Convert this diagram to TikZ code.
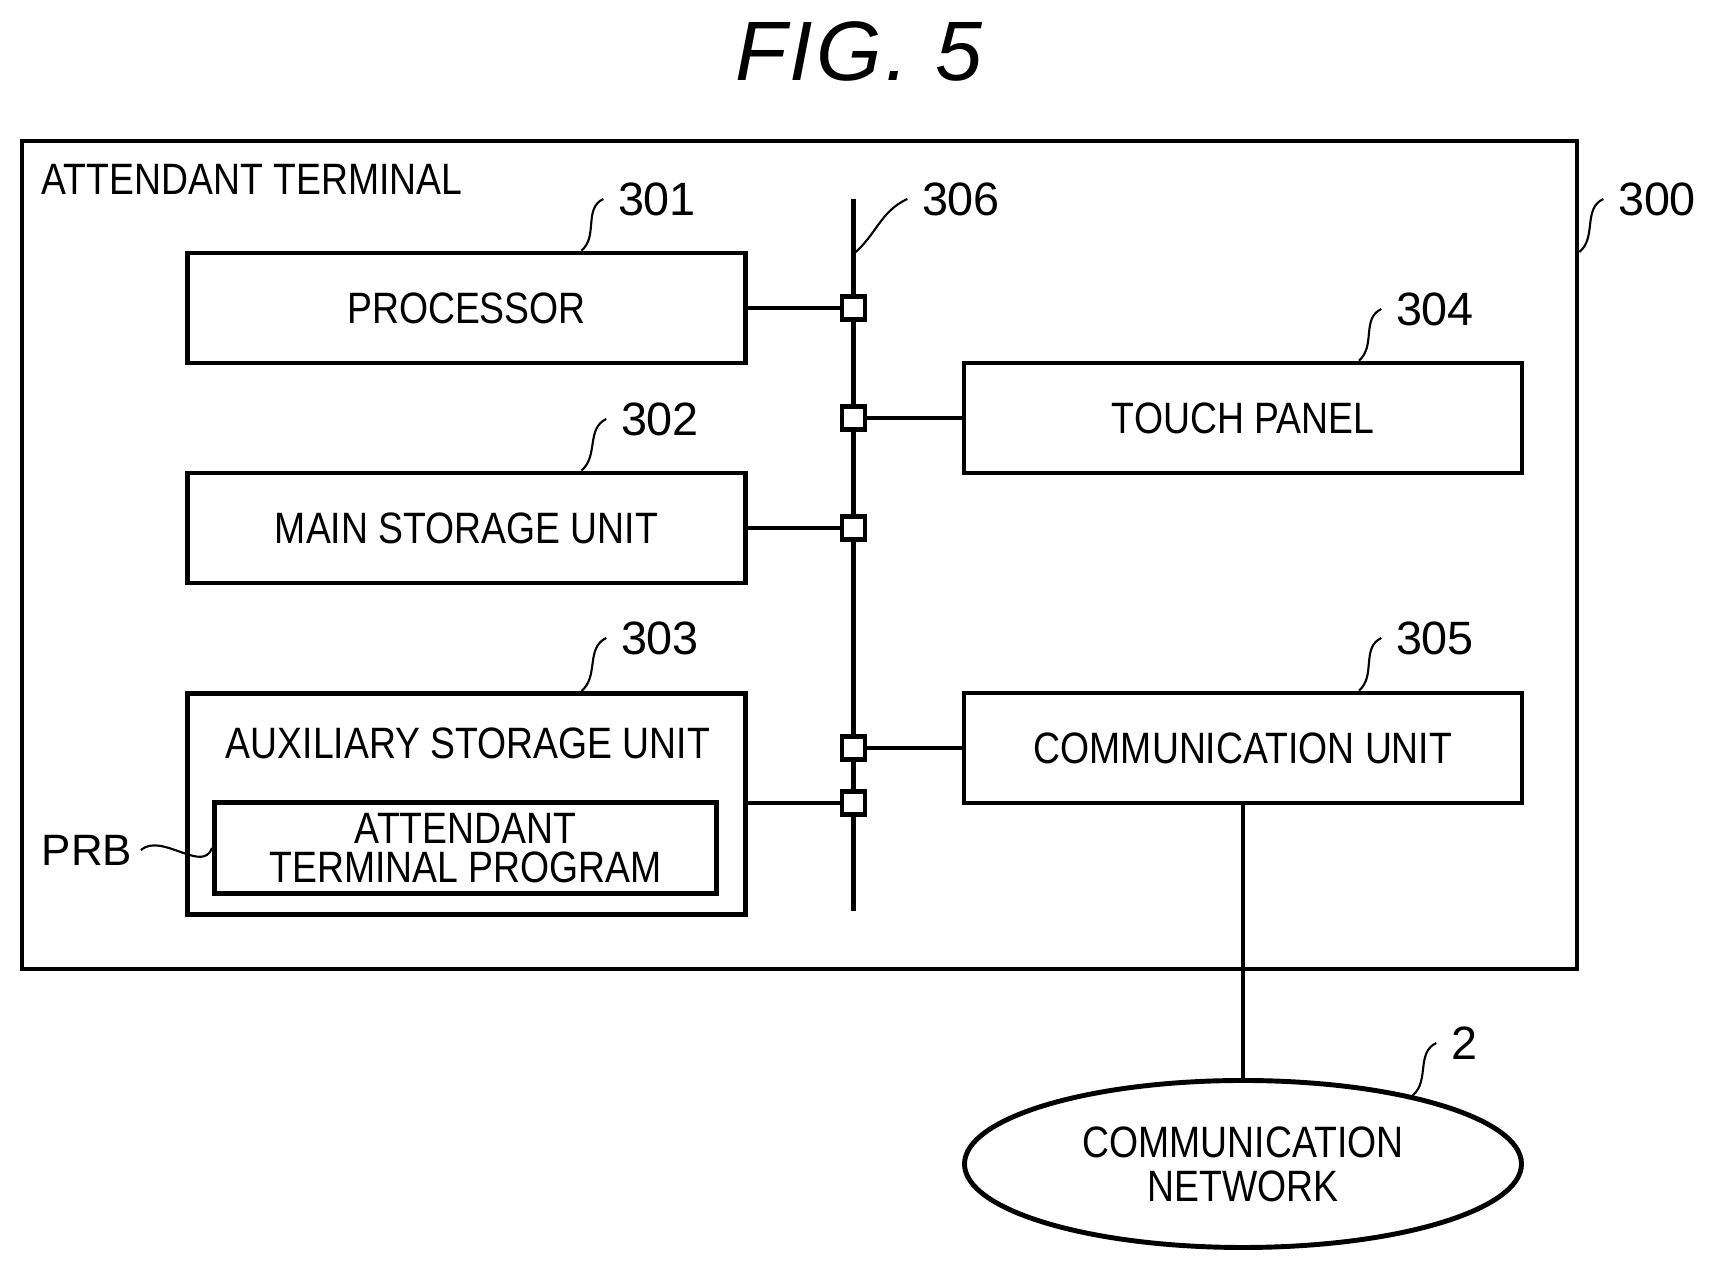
\documentclass[tikz,border=0pt]{standalone}
\usepackage{fontspec}
\setmainfont[FakeStretch=0.85]{Liberation Sans}
\newfontfamily\figfont{Liberation Sans}
\newfontfamily\titlefont[LetterSpace=4]{Liberation Sans}
\usepackage{tikz}
\usetikzlibrary{shapes.geometric}
\tikzset{label text/.style={font=\fontsize{12.5}{11}\selectfont,align=center}}
\tikzset{unitbox/.style={draw,line width=1.4pt,inner sep=0pt,label text,minimum width=5.58cm,minimum height=1.10cm}}
\tikzset{port/.style={rectangle,draw,fill=white,line width=1.4pt,inner sep=0pt,minimum size=.23cm}}
\tikzset{wire/.style={line width=1.4pt}}
\tikzset{leader/.style={line width=.6pt,out=40,in=205}}
\tikzset{ref/.style={font=\figfont\fontsize{13.3}{13.3}\selectfont,inner sep=.14cm}}

\begin{document}
\begin{tikzpicture}
  \useasboundingbox (0,0) rectangle (17.19,12.70);
  \node[font=\titlefont\itshape\fontsize{24}{24}\selectfont,inner sep=0pt] (title) at (8.59,12.19) {FIG. 5};
  \node[draw,line width=1.4pt,inner sep=0pt,minimum width=15.55cm,minimum height=8.28cm] (terminal) at (7.995,7.15) {};
  \node[label text,anchor=west,inner sep=0pt] (terminalname) at (.41,10.91) {ATTENDANT TERMINAL};

  \node[unitbox] (processor) at (4.665,9.62) {PROCESSOR};
  \node[unitbox] (mainstorage) at (4.665,7.42) {MAIN STORAGE UNIT};
  \node[unitbox,minimum height=2.21cm] (auxstorage) at (4.665,4.66) {};
  \node[label text,inner sep=0pt] (auxname) at (4.68,5.27) {AUXILIARY STORAGE UNIT};
  \node[unitbox,minimum width=5.02cm,minimum height=.91cm] (program) at (4.655,4.22) {ATTENDANT\\TERMINAL PROGRAM};
  \node[unitbox] (touchpanel) at (12.43,8.52) {TOUCH PANEL};
  \node[unitbox] (commun) at (12.43,5.22) {COMMUNICATION UNIT};
  \node[draw,ellipse,line width=1.4pt,inner sep=0pt,minimum width=5.57cm,minimum height=1.67cm,label text,font=\fontsize{12.5}{12.5}\selectfont] (network) at (12.43,1.06) {COMMUNICATION\\NETWORK};

  % bus
  \coordinate (bustop) at (8.535,10.71);
  \coordinate (busbot) at (8.535,3.59);
  \draw[wire] (bustop) -- (busbot);
  \node[port] (p1) at (8.535,9.62) {};
  \node[port] (p2) at (8.535,8.52) {};
  \node[port] (p3) at (8.535,7.42) {};
  \node[port] (p4) at (8.535,5.22) {};
  \node[port] (p5) at (8.535,4.67) {};
  \draw[wire] (processor) -- (p1);
  \draw[wire] (touchpanel) -- (p2);
  \draw[wire] (mainstorage) -- (p3);
  \draw[wire] (commun) -- (p4);
  \draw[wire] (auxstorage.east |- p5) -- (p5);
  \draw[wire] (commun) -- (network);

  % reference numbers
  \node[ref] (n301) at (6.57,10.71) {301};
  \node[ref] (n302) at (6.60,8.51) {302};
  \node[ref] (n303) at (6.60,6.32) {303};
  \node[ref] (n304) at (14.35,9.61) {304};
  \node[ref] (n305) at (14.35,6.32) {305};
  \node[ref] (n306) at (9.61,10.71) {306};
  \node[ref] (n300) at (16.57,10.71) {300};
  \node[ref] (n2) at (14.64,2.27) {2};
  \node[font=\figfont\fontsize{12.5}{12.5}\selectfont,inner sep=.08cm] (prb) at (.87,4.20) {PRB};
  \draw[leader] ([xshift=1.15cm]processor.north) to (n301.west);
  \draw[leader] ([xshift=1.15cm]mainstorage.north) to (n302.west);
  \draw[leader] ([xshift=1.15cm]auxstorage.north) to (n303.west);
  \draw[leader] ([xshift=1.16cm]touchpanel.north) to (n304.west);
  \draw[leader] ([xshift=1.16cm]commun.north) to (n305.west);
  \draw[leader] ([yshift=-.55cm]bustop) to (n306.west);
  \draw[leader] ([yshift=3.03cm]terminal.east) to (n300.west);
  \draw[leader] (network.22) to (n2.west);
  \draw[line width=.6pt] (prb.east) to[out=40,in=-110] (program.west);
\end{tikzpicture}
\end{document}
